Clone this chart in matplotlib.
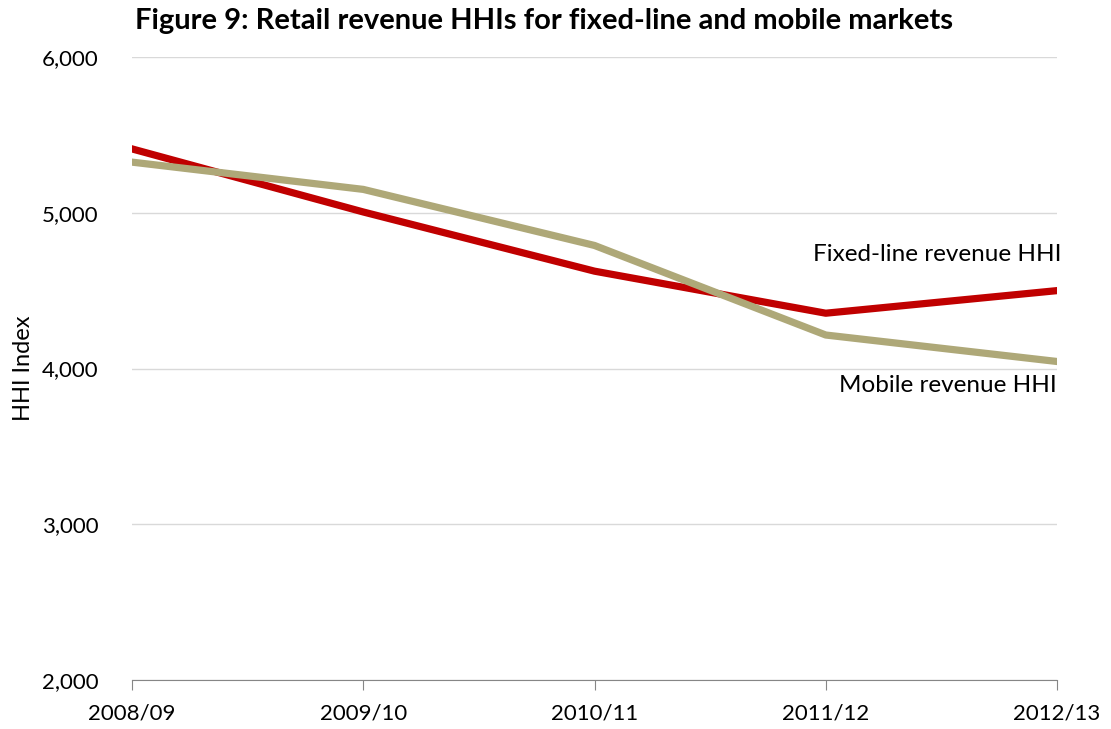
import matplotlib.pyplot as plt

plt.rcParams['font.family'] = ['Lato', 'DejaVu Sans']

years = ['2008/09', '2009/10', '2010/11', '2011/12', '2012/13']
fixed_hhi = [5410, 5005, 4625, 4355, 4500]
mobile_hhi = [5325, 5150, 4790, 4215, 4045]
yticks = [2000, 3000, 4000, 5000, 6000]

red = '#C00000'
tan = '#AEA878'

fig = plt.figure(figsize=(11.11, 7.29), dpi=100)
ax = fig.add_axes([132/1111, 1-680/729, (1057-132)/1111, (680-57)/729])

x = range(len(years))
ax.plot(x, fixed_hhi, color=red, lw=5.2, solid_joinstyle='round', zorder=3)
ax.plot(x, mobile_hhi, color=tan, lw=5.2, solid_joinstyle='round', zorder=3)

ax.set_xlim(0, len(years) - 1)
ax.set_ylim(2000, 6000)
ax.set_yticks(yticks)
ax.set_yticklabels([f'{v:,}' for v in yticks], fontsize=16)
ax.set_xticks(list(x))
ax.set_xticklabels(years, fontsize=16)
ax.grid(axis='y', color='#D9D9D9', lw=1)
ax.set_axisbelow(True)

for s in ['top', 'right', 'left']:
    ax.spines[s].set_visible(False)
ax.spines['bottom'].set_color('#868686')
ax.tick_params(axis='y', length=0, pad=24)
ax.tick_params(axis='x', length=7, color='#868686', pad=10)

ax.set_ylabel('HHI Index', fontsize=17, labelpad=6)
fig.text(135/1111, 1-21/729, 'Figure 9: Retail revenue HHIs for fixed-line and mobile markets',
         fontsize=21, fontweight='bold', va='center', ha='left')

ax.text(4.02, 4730, 'Fixed-line revenue HHI', fontsize=17.5, ha='right', va='center')
ax.text(4.0, 3890, 'Mobile revenue HHI', fontsize=17.5, ha='right', va='center')

fig.savefig('out.png', dpi=100)
